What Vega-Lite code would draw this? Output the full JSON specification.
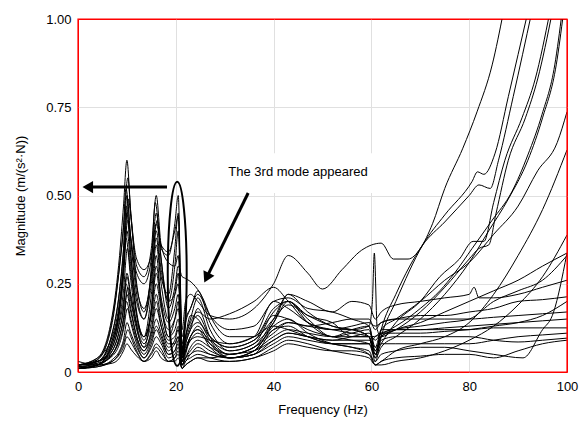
{
"$schema": "https://vega.github.io/schema/vega-lite/v6.json",
"width": 489, "height": 353,
"autosize": "none",
"padding": {"left": 78, "top": 19, "right": 13, "bottom": 55},
"view": {"stroke": "#ff0000", "strokeWidth": 1},
"config": {
 "font": "Liberation Sans",
 "view": {"stroke": "#ff0000", "strokeWidth": 1},
 "axis": {"labelFontSize": 13, "titleFontSize": 13, "labelColor": "#000", "titleColor": "#000", "titleFontWeight": "normal", "gridColor": "#e0e0e0", "ticks": false, "domain": false, "labelFlush": false}
},
"datasets": {
 "box": [{"f": 26, "f2": 65, "m": 0.507, "m2": 0.62}],
 "frame": [{"f": 0, "f2": 100, "m": 0, "m2": 1}],
 "label": [{"f": 45, "m": 0.567, "t": "The 3rd mode appeared"}],
 "arrows": [{"a": 1, "f": 18.2, "m": 0.524}, {"a": 1, "f": 2.2, "m": 0.524}, {"a": 2, "f": 34.8, "m": 0.507}, {"a": 2, "f": 26.4, "m": 0.27}],
 "head1": [{"f": 2.0, "m": 0.524}],
 "head2": [{"f": 26.3, "m": 0.267}],
 "ellipse": [{"f": 20.29, "m": 0.278}],
 "curves": [
{"c":1,"f":0,"m":0.02},{"c":1,"f":4,"m":0.04},{"c":1,"f":7,"m":0.16},{"c":1,"f":8.5,"m":0.33},{"c":1,"f":9.3,"m":0.47},{"c":1,"f":10,"m":0.6},{"c":1,"f":10.8,"m":0.45},{"c":1,"f":12,"m":0.32},{"c":1,"f":13.5,"m":0.29},{"c":1,"f":15,"m":0.33},{"c":1,"f":16,"m":0.42},{"c":1,"f":17,"m":0.36},{"c":1,"f":18.5,"m":0.34},{"c":1,"f":19.8,"m":0.4},{"c":1,"f":20.5,"m":0.44},{"c":1,"f":21.3,"m":0.12},{"c":1,"f":22,"m":0.2},{"c":1,"f":23,"m":0.22},{"c":1,"f":24.5,"m":0.2},{"c":1,"f":27,"m":0.16},{"c":1,"f":31,"m":0.15},{"c":1,"f":36,"m":0.18},{"c":1,"f":40,"m":0.25},{"c":1,"f":43,"m":0.33},{"c":1,"f":47,"m":0.28},{"c":1,"f":50,"m":0.235},{"c":1,"f":54,"m":0.29},{"c":1,"f":58,"m":0.345},{"c":1,"f":62,"m":0.365},{"c":1,"f":64.5,"m":0.32},{"c":1,"f":67.5,"m":0.32},{"c":1,"f":70,"m":0.35},{"c":1,"f":72.5,"m":0.42},{"c":1,"f":75,"m":0.52},{"c":1,"f":78.7,"m":0.634},{"c":1,"f":81.6,"m":0.737},{"c":1,"f":84.7,"m":0.87},{"c":1,"f":87,"m":1.02},
{"c":2,"f":0,"m":0.01},{"c":2,"f":4,"m":0.035},{"c":2,"f":7,"m":0.15},{"c":2,"f":8.5,"m":0.3},{"c":2,"f":9.3,"m":0.41},{"c":2,"f":10.2,"m":0.55},{"c":2,"f":10.8,"m":0.45},{"c":2,"f":12,"m":0.3},{"c":2,"f":13.5,"m":0.27},{"c":2,"f":15,"m":0.35},{"c":2,"f":16,"m":0.5},{"c":2,"f":17,"m":0.36},{"c":2,"f":18.5,"m":0.31},{"c":2,"f":19.8,"m":0.3},{"c":2,"f":20.5,"m":0.33},{"c":2,"f":21.3,"m":0.1},{"c":2,"f":22,"m":0.15},{"c":2,"f":23,"m":0.18},{"c":2,"f":24.5,"m":0.23},{"c":2,"f":27,"m":0.14},{"c":2,"f":31,"m":0.08},{"c":2,"f":36,"m":0.1},{"c":2,"f":40,"m":0.2},{"c":2,"f":43,"m":0.18},{"c":2,"f":47,"m":0.14},{"c":2,"f":52,"m":0.12},{"c":2,"f":56,"m":0.12},{"c":2,"f":59.5,"m":0.1},{"c":2,"f":60.8,"m":0.03},{"c":2,"f":62,"m":0.1},{"c":2,"f":65,"m":0.2},{"c":2,"f":70.5,"m":0.36},{"c":2,"f":75,"m":0.445},{"c":2,"f":80.6,"m":0.54},{"c":2,"f":81.7,"m":0.567},{"c":2,"f":83,"m":0.56},{"c":2,"f":85.3,"m":0.62},{"c":2,"f":88,"m":0.78},{"c":2,"f":92,"m":1.02},
{"c":3,"f":0,"m":0.02},{"c":3,"f":4,"m":0.035},{"c":3,"f":7,"m":0.14},{"c":3,"f":8.5,"m":0.3},{"c":3,"f":9.3,"m":0.41},{"c":3,"f":9.8,"m":0.52},{"c":3,"f":10.8,"m":0.38},{"c":3,"f":12,"m":0.28},{"c":3,"f":13.5,"m":0.25},{"c":3,"f":15,"m":0.32},{"c":3,"f":16,"m":0.45},{"c":3,"f":17,"m":0.35},{"c":3,"f":18.5,"m":0.33},{"c":3,"f":19.8,"m":0.42},{"c":3,"f":20.5,"m":0.5},{"c":3,"f":21.3,"m":0.05},{"c":3,"f":22,"m":0.1},{"c":3,"f":23,"m":0.15},{"c":3,"f":24.5,"m":0.21},{"c":3,"f":27,"m":0.12},{"c":3,"f":31,"m":0.06},{"c":3,"f":36,"m":0.08},{"c":3,"f":40,"m":0.17},{"c":3,"f":43,"m":0.2},{"c":3,"f":47,"m":0.15},{"c":3,"f":52,"m":0.1},{"c":3,"f":56,"m":0.12},{"c":3,"f":59.5,"m":0.13},{"c":3,"f":60.8,"m":0.05},{"c":3,"f":62,"m":0.12},{"c":3,"f":65,"m":0.22},{"c":3,"f":70.5,"m":0.36},{"c":3,"f":75,"m":0.425},{"c":3,"f":80,"m":0.5},{"c":3,"f":82,"m":0.53},{"c":3,"f":84.3,"m":0.52},{"c":3,"f":86,"m":0.6},{"c":3,"f":89,"m":0.78},{"c":3,"f":92.8,"m":1.02},
{"c":4,"f":0,"m":0.015},{"c":4,"f":4,"m":0.025},{"c":4,"f":7,"m":0.11},{"c":4,"f":8.5,"m":0.23},{"c":4,"f":9.3,"m":0.35},{"c":4,"f":10,"m":0.5},{"c":4,"f":10.8,"m":0.37},{"c":4,"f":12,"m":0.22},{"c":4,"f":13.5,"m":0.15},{"c":4,"f":15,"m":0.25},{"c":4,"f":16,"m":0.38},{"c":4,"f":17,"m":0.27},{"c":4,"f":18.5,"m":0.22},{"c":4,"f":19.8,"m":0.35},{"c":4,"f":20.5,"m":0.45},{"c":4,"f":21.3,"m":0.03},{"c":4,"f":22,"m":0.08},{"c":4,"f":23,"m":0.12},{"c":4,"f":24.5,"m":0.18},{"c":4,"f":27,"m":0.1},{"c":4,"f":31,"m":0.05},{"c":4,"f":36,"m":0.07},{"c":4,"f":40,"m":0.15},{"c":4,"f":43,"m":0.22},{"c":4,"f":47,"m":0.17},{"c":4,"f":52,"m":0.13},{"c":4,"f":56,"m":0.12},{"c":4,"f":59.5,"m":0.1},{"c":4,"f":60.8,"m":0.05},{"c":4,"f":62,"m":0.08},{"c":4,"f":65,"m":0.14},{"c":4,"f":70,"m":0.2},{"c":4,"f":74,"m":0.27},{"c":4,"f":78,"m":0.32},{"c":4,"f":80.8,"m":0.37},{"c":4,"f":83,"m":0.37},{"c":4,"f":85,"m":0.48},{"c":4,"f":87.3,"m":0.6},{"c":4,"f":90.8,"m":0.72},{"c":4,"f":93.5,"m":0.83},{"c":4,"f":96.5,"m":1.02},
{"c":5,"f":0,"m":0.01},{"c":5,"f":4,"m":0.02},{"c":5,"f":7,"m":0.09},{"c":5,"f":8.5,"m":0.19},{"c":5,"f":9.3,"m":0.3},{"c":5,"f":10.3,"m":0.49},{"c":5,"f":10.8,"m":0.44},{"c":5,"f":12,"m":0.25},{"c":5,"f":13.5,"m":0.17},{"c":5,"f":15,"m":0.28},{"c":5,"f":16.2,"m":0.43},{"c":5,"f":17,"m":0.32},{"c":5,"f":18.5,"m":0.2},{"c":5,"f":19.8,"m":0.3},{"c":5,"f":20.5,"m":0.4},{"c":5,"f":21.3,"m":0.04},{"c":5,"f":22,"m":0.1},{"c":5,"f":23,"m":0.16},{"c":5,"f":24.5,"m":0.15},{"c":5,"f":27,"m":0.09},{"c":5,"f":31,"m":0.04},{"c":5,"f":36,"m":0.06},{"c":5,"f":40,"m":0.14},{"c":5,"f":43,"m":0.2},{"c":5,"f":47,"m":0.14},{"c":5,"f":52,"m":0.1},{"c":5,"f":56,"m":0.11},{"c":5,"f":59.5,"m":0.12},{"c":5,"f":60.8,"m":0.06},{"c":5,"f":62,"m":0.1},{"c":5,"f":65,"m":0.12},{"c":5,"f":70,"m":0.17},{"c":5,"f":75,"m":0.24},{"c":5,"f":80,"m":0.32},{"c":5,"f":82,"m":0.35},{"c":5,"f":84,"m":0.36},{"c":5,"f":85.5,"m":0.45},{"c":5,"f":88,"m":0.6},{"c":5,"f":91.5,"m":0.72},{"c":5,"f":94,"m":0.83},{"c":5,"f":97,"m":1.02},
{"c":6,"f":0,"m":0.02},{"c":6,"f":4,"m":0.03},{"c":6,"f":7,"m":0.11},{"c":6,"f":8.5,"m":0.23},{"c":6,"f":9.3,"m":0.34},{"c":6,"f":9.9,"m":0.47},{"c":6,"f":10.8,"m":0.33},{"c":6,"f":12,"m":0.2},{"c":6,"f":13.5,"m":0.15},{"c":6,"f":15,"m":0.3},{"c":6,"f":15.8,"m":0.48},{"c":6,"f":17,"m":0.32},{"c":6,"f":18.5,"m":0.18},{"c":6,"f":19.8,"m":0.24},{"c":6,"f":20.5,"m":0.3},{"c":6,"f":21.3,"m":0.27},{"c":6,"f":22,"m":0.265},{"c":6,"f":23.5,"m":0.25},{"c":6,"f":25.5,"m":0.21},{"c":6,"f":27,"m":0.16},{"c":6,"f":31,"m":0.1},{"c":6,"f":36,"m":0.1},{"c":6,"f":40,"m":0.18},{"c":6,"f":43,"m":0.2},{"c":6,"f":47,"m":0.16},{"c":6,"f":52,"m":0.14},{"c":6,"f":56,"m":0.1},{"c":6,"f":60,"m":0.1},{"c":6,"f":65,"m":0.13},{"c":6,"f":70,"m":0.18},{"c":6,"f":74,"m":0.23},{"c":6,"f":77,"m":0.28},{"c":6,"f":80.6,"m":0.35},{"c":6,"f":84.7,"m":0.43},{"c":6,"f":88.7,"m":0.51},{"c":6,"f":92,"m":0.615},{"c":6,"f":94.9,"m":0.73},{"c":6,"f":97.5,"m":0.87},{"c":6,"f":99,"m":1.02},
{"c":7,"f":0,"m":0.01},{"c":7,"f":4,"m":0.02},{"c":7,"f":7,"m":0.08},{"c":7,"f":8.5,"m":0.18},{"c":7,"f":9.3,"m":0.3},{"c":7,"f":10,"m":0.45},{"c":7,"f":10.8,"m":0.33},{"c":7,"f":12,"m":0.17},{"c":7,"f":13.5,"m":0.1},{"c":7,"f":15,"m":0.22},{"c":7,"f":16,"m":0.36},{"c":7,"f":17,"m":0.25},{"c":7,"f":18.5,"m":0.15},{"c":7,"f":19.8,"m":0.22},{"c":7,"f":20.5,"m":0.28},{"c":7,"f":21.3,"m":0.05},{"c":7,"f":22,"m":0.09},{"c":7,"f":23,"m":0.13},{"c":7,"f":24.5,"m":0.16},{"c":7,"f":27,"m":0.1},{"c":7,"f":31,"m":0.07},{"c":7,"f":36,"m":0.09},{"c":7,"f":40,"m":0.16},{"c":7,"f":43,"m":0.15},{"c":7,"f":47,"m":0.12},{"c":7,"f":52,"m":0.1},{"c":7,"f":56,"m":0.09},{"c":7,"f":59.5,"m":0.08},{"c":7,"f":60.8,"m":0.04},{"c":7,"f":62,"m":0.07},{"c":7,"f":65,"m":0.1},{"c":7,"f":70,"m":0.15},{"c":7,"f":75,"m":0.22},{"c":7,"f":80,"m":0.31},{"c":7,"f":84,"m":0.4},{"c":7,"f":88,"m":0.49},{"c":7,"f":92,"m":0.6},{"c":7,"f":95,"m":0.72},{"c":7,"f":97.8,"m":0.87},{"c":7,"f":99.3,"m":1.02},
{"c":8,"f":0,"m":0.02},{"c":8,"f":4,"m":0.04},{"c":8,"f":7,"m":0.1},{"c":8,"f":8.5,"m":0.2},{"c":8,"f":9.3,"m":0.3},{"c":8,"f":10.2,"m":0.43},{"c":8,"f":10.8,"m":0.38},{"c":8,"f":12,"m":0.24},{"c":8,"f":13.5,"m":0.18},{"c":8,"f":15,"m":0.27},{"c":8,"f":16,"m":0.4},{"c":8,"f":17,"m":0.29},{"c":8,"f":18.5,"m":0.2},{"c":8,"f":19.8,"m":0.22},{"c":8,"f":20.5,"m":0.25},{"c":8,"f":21.3,"m":0.08},{"c":8,"f":22,"m":0.14},{"c":8,"f":23,"m":0.18},{"c":8,"f":24.5,"m":0.22},{"c":8,"f":27,"m":0.16},{"c":8,"f":31,"m":0.12},{"c":8,"f":36,"m":0.13},{"c":8,"f":40,"m":0.2},{"c":8,"f":43,"m":0.21},{"c":8,"f":47,"m":0.18},{"c":8,"f":52,"m":0.17},{"c":8,"f":56,"m":0.15},{"c":8,"f":59.5,"m":0.13},{"c":8,"f":60.8,"m":0.07},{"c":8,"f":62,"m":0.12},{"c":8,"f":65,"m":0.15},{"c":8,"f":70,"m":0.2},{"c":8,"f":75,"m":0.26},{"c":8,"f":80,"m":0.31},{"c":8,"f":85,"m":0.39},{"c":8,"f":90,"m":0.47},{"c":8,"f":94,"m":0.57},{"c":8,"f":98,"m":0.65},{"c":8,"f":100,"m":0.737},
{"c":9,"f":0,"m":0.01},{"c":9,"f":4,"m":0.02},{"c":9,"f":7,"m":0.08},{"c":9,"f":8.5,"m":0.17},{"c":9,"f":9.3,"m":0.27},{"c":9,"f":10,"m":0.4},{"c":9,"f":10.8,"m":0.3},{"c":9,"f":12,"m":0.16},{"c":9,"f":13.5,"m":0.09},{"c":9,"f":15,"m":0.18},{"c":9,"f":16,"m":0.3},{"c":9,"f":17,"m":0.21},{"c":9,"f":18.5,"m":0.14},{"c":9,"f":19.8,"m":0.18},{"c":9,"f":20.5,"m":0.22},{"c":9,"f":21.3,"m":0.04},{"c":9,"f":22,"m":0.07},{"c":9,"f":23,"m":0.1},{"c":9,"f":24.5,"m":0.13},{"c":9,"f":27,"m":0.08},{"c":9,"f":31,"m":0.04},{"c":9,"f":36,"m":0.05},{"c":9,"f":40,"m":0.12},{"c":9,"f":43,"m":0.13},{"c":9,"f":47,"m":0.1},{"c":9,"f":52,"m":0.08},{"c":9,"f":56,"m":0.07},{"c":9,"f":59.5,"m":0.06},{"c":9,"f":60.8,"m":0.02},{"c":9,"f":62,"m":0.03},{"c":9,"f":65,"m":0.06},{"c":9,"f":70,"m":0.08},{"c":9,"f":75,"m":0.1},{"c":9,"f":80,"m":0.14},{"c":9,"f":85,"m":0.22},{"c":9,"f":90,"m":0.33},{"c":9,"f":95,"m":0.46},{"c":9,"f":100,"m":0.629},
{"c":10,"f":0,"m":0.02},{"c":10,"f":4,"m":0.03},{"c":10,"f":7,"m":0.09},{"c":10,"f":8.5,"m":0.18},{"c":10,"f":9.3,"m":0.28},{"c":10,"f":9.8,"m":0.38},{"c":10,"f":10.8,"m":0.26},{"c":10,"f":12,"m":0.13},{"c":10,"f":13.5,"m":0.07},{"c":10,"f":15,"m":0.18},{"c":10,"f":16,"m":0.33},{"c":10,"f":17,"m":0.2},{"c":10,"f":18.5,"m":0.1},{"c":10,"f":19.8,"m":0.15},{"c":10,"f":20.5,"m":0.2},{"c":10,"f":21.3,"m":0.03},{"c":10,"f":22,"m":0.06},{"c":10,"f":23,"m":0.1},{"c":10,"f":24.5,"m":0.12},{"c":10,"f":27,"m":0.07},{"c":10,"f":31,"m":0.04},{"c":10,"f":36,"m":0.06},{"c":10,"f":40,"m":0.13},{"c":10,"f":43,"m":0.15},{"c":10,"f":47,"m":0.11},{"c":10,"f":52,"m":0.08},{"c":10,"f":56,"m":0.07},{"c":10,"f":59.5,"m":0.05},{"c":10,"f":60.8,"m":0.02},{"c":10,"f":62,"m":0.02},{"c":10,"f":65,"m":0.03},{"c":10,"f":70,"m":0.04},{"c":10,"f":75,"m":0.06},{"c":10,"f":80,"m":0.09},{"c":10,"f":85,"m":0.13},{"c":10,"f":90,"m":0.19},{"c":10,"f":95,"m":0.27},{"c":10,"f":100,"m":0.388},
{"c":11,"f":0,"m":0.01},{"c":11,"f":4,"m":0.02},{"c":11,"f":7,"m":0.07},{"c":11,"f":8.5,"m":0.15},{"c":11,"f":9.3,"m":0.23},{"c":11,"f":10.1,"m":0.35},{"c":11,"f":10.8,"m":0.28},{"c":11,"f":12,"m":0.16},{"c":11,"f":13.5,"m":0.1},{"c":11,"f":15,"m":0.17},{"c":11,"f":16,"m":0.28},{"c":11,"f":17,"m":0.19},{"c":11,"f":18.5,"m":0.12},{"c":11,"f":19.8,"m":0.15},{"c":11,"f":20.5,"m":0.18},{"c":11,"f":21.3,"m":0.05},{"c":11,"f":22,"m":0.1},{"c":11,"f":23,"m":0.14},{"c":11,"f":24.5,"m":0.17},{"c":11,"f":27,"m":0.15},{"c":11,"f":31,"m":0.165},{"c":11,"f":36,"m":0.2},{"c":11,"f":40,"m":0.24},{"c":11,"f":43,"m":0.2},{"c":11,"f":47,"m":0.14},{"c":11,"f":52,"m":0.12},{"c":11,"f":56,"m":0.11},{"c":11,"f":59.5,"m":0.1},{"c":11,"f":60.8,"m":0.06},{"c":11,"f":62,"m":0.1},{"c":11,"f":65,"m":0.12},{"c":11,"f":70,"m":0.14},{"c":11,"f":75,"m":0.17},{"c":11,"f":80,"m":0.2},{"c":11,"f":85,"m":0.23},{"c":11,"f":90,"m":0.26},{"c":11,"f":95,"m":0.3},{"c":11,"f":100,"m":0.337},
{"c":12,"f":0,"m":0.02},{"c":12,"f":4,"m":0.03},{"c":12,"f":7,"m":0.07},{"c":12,"f":8.5,"m":0.14},{"c":12,"f":9.3,"m":0.2},{"c":12,"f":10,"m":0.28},{"c":12,"f":10.8,"m":0.22},{"c":12,"f":12,"m":0.14},{"c":12,"f":13.5,"m":0.1},{"c":12,"f":15,"m":0.16},{"c":12,"f":16,"m":0.25},{"c":12,"f":17,"m":0.18},{"c":12,"f":18.5,"m":0.1},{"c":12,"f":19.8,"m":0.12},{"c":12,"f":20.5,"m":0.15},{"c":12,"f":21.3,"m":0.04},{"c":12,"f":22,"m":0.08},{"c":12,"f":23,"m":0.12},{"c":12,"f":24.5,"m":0.14},{"c":12,"f":27,"m":0.1},{"c":12,"f":31,"m":0.07},{"c":12,"f":36,"m":0.09},{"c":12,"f":40,"m":0.15},{"c":12,"f":43,"m":0.19},{"c":12,"f":47,"m":0.16},{"c":12,"f":52,"m":0.13},{"c":12,"f":56,"m":0.12},{"c":12,"f":59.5,"m":0.13},{"c":12,"f":60.2,"m":0.2},{"c":12,"f":60.6,"m":0.337},{"c":12,"f":61.2,"m":0.12},{"c":12,"f":62,"m":0.1},{"c":12,"f":65,"m":0.12},{"c":12,"f":70,"m":0.13},{"c":12,"f":75,"m":0.14},{"c":12,"f":80,"m":0.15},{"c":12,"f":85,"m":0.2},{"c":12,"f":90,"m":0.23},{"c":12,"f":95,"m":0.26},{"c":12,"f":100,"m":0.33},
{"c":13,"f":0,"m":0.015},{"c":13,"f":4,"m":0.02},{"c":13,"f":7,"m":0.06},{"c":13,"f":8.5,"m":0.12},{"c":13,"f":9.3,"m":0.18},{"c":13,"f":10,"m":0.27},{"c":13,"f":10.8,"m":0.21},{"c":13,"f":12,"m":0.13},{"c":13,"f":13.5,"m":0.08},{"c":13,"f":15,"m":0.14},{"c":13,"f":16,"m":0.22},{"c":13,"f":17,"m":0.15},{"c":13,"f":18.5,"m":0.09},{"c":13,"f":19.8,"m":0.1},{"c":13,"f":20.5,"m":0.13},{"c":13,"f":21.3,"m":0.02},{"c":13,"f":22,"m":0.05},{"c":13,"f":23,"m":0.1},{"c":13,"f":24.5,"m":0.12},{"c":13,"f":27,"m":0.09},{"c":13,"f":31,"m":0.06},{"c":13,"f":36,"m":0.08},{"c":13,"f":40,"m":0.14},{"c":13,"f":43,"m":0.22},{"c":13,"f":47,"m":0.2},{"c":13,"f":52,"m":0.17},{"c":13,"f":56,"m":0.2},{"c":13,"f":59.5,"m":0.19},{"c":13,"f":60.8,"m":0.15},{"c":13,"f":62,"m":0.17},{"c":13,"f":65,"m":0.19},{"c":13,"f":70,"m":0.2},{"c":13,"f":75,"m":0.21},{"c":13,"f":80,"m":0.22},{"c":13,"f":81,"m":0.24},{"c":13,"f":82,"m":0.21},{"c":13,"f":85,"m":0.21},{"c":13,"f":90,"m":0.22},{"c":13,"f":95,"m":0.24},{"c":13,"f":100,"m":0.26},
{"c":14,"f":0,"m":0.02},{"c":14,"f":4,"m":0.03},{"c":14,"f":7,"m":0.06},{"c":14,"f":8.5,"m":0.12},{"c":14,"f":9.3,"m":0.18},{"c":14,"f":9.8,"m":0.25},{"c":14,"f":10.8,"m":0.18},{"c":14,"f":12,"m":0.1},{"c":14,"f":13.5,"m":0.06},{"c":14,"f":15,"m":0.12},{"c":14,"f":16,"m":0.2},{"c":14,"f":17,"m":0.13},{"c":14,"f":18.5,"m":0.07},{"c":14,"f":19.8,"m":0.09},{"c":14,"f":20.5,"m":0.12},{"c":14,"f":21.3,"m":0.03},{"c":14,"f":22,"m":0.06},{"c":14,"f":23,"m":0.09},{"c":14,"f":24.5,"m":0.11},{"c":14,"f":27,"m":0.08},{"c":14,"f":31,"m":0.05},{"c":14,"f":36,"m":0.07},{"c":14,"f":40,"m":0.12},{"c":14,"f":43,"m":0.14},{"c":14,"f":47,"m":0.13},{"c":14,"f":52,"m":0.12},{"c":14,"f":56,"m":0.13},{"c":14,"f":59.5,"m":0.14},{"c":14,"f":60.8,"m":0.13},{"c":14,"f":62,"m":0.14},{"c":14,"f":65,"m":0.15},{"c":14,"f":70,"m":0.16},{"c":14,"f":75,"m":0.16},{"c":14,"f":80,"m":0.17},{"c":14,"f":85,"m":0.18},{"c":14,"f":90,"m":0.2},{"c":14,"f":95,"m":0.205},{"c":14,"f":100,"m":0.213},
{"c":15,"f":0,"m":0.01},{"c":15,"f":4,"m":0.02},{"c":15,"f":7,"m":0.05},{"c":15,"f":8.5,"m":0.1},{"c":15,"f":9.3,"m":0.15},{"c":15,"f":10.2,"m":0.24},{"c":15,"f":10.8,"m":0.2},{"c":15,"f":12,"m":0.12},{"c":15,"f":13.5,"m":0.07},{"c":15,"f":15,"m":0.11},{"c":15,"f":16,"m":0.18},{"c":15,"f":17,"m":0.13},{"c":15,"f":18.5,"m":0.08},{"c":15,"f":19.8,"m":0.08},{"c":15,"f":20.5,"m":0.1},{"c":15,"f":21.3,"m":0.03},{"c":15,"f":22,"m":0.06},{"c":15,"f":23,"m":0.09},{"c":15,"f":24.5,"m":0.1},{"c":15,"f":27,"m":0.09},{"c":15,"f":31,"m":0.08},{"c":15,"f":36,"m":0.1},{"c":15,"f":40,"m":0.13},{"c":15,"f":43,"m":0.12},{"c":15,"f":47,"m":0.1},{"c":15,"f":52,"m":0.08},{"c":15,"f":56,"m":0.08},{"c":15,"f":59.5,"m":0.08},{"c":15,"f":60.8,"m":0.1},{"c":15,"f":62,"m":0.11},{"c":15,"f":65,"m":0.11},{"c":15,"f":70,"m":0.11},{"c":15,"f":75,"m":0.115},{"c":15,"f":80,"m":0.12},{"c":15,"f":85,"m":0.13},{"c":15,"f":90,"m":0.14},{"c":15,"f":95,"m":0.16},{"c":15,"f":100,"m":0.2},
{"c":16,"f":0,"m":0.02},{"c":16,"f":4,"m":0.03},{"c":16,"f":7,"m":0.05},{"c":16,"f":8.5,"m":0.1},{"c":16,"f":9.3,"m":0.15},{"c":16,"f":10,"m":0.22},{"c":16,"f":10.8,"m":0.17},{"c":16,"f":12,"m":0.1},{"c":16,"f":13.5,"m":0.06},{"c":16,"f":15,"m":0.1},{"c":16,"f":16,"m":0.15},{"c":16,"f":17,"m":0.11},{"c":16,"f":18.5,"m":0.06},{"c":16,"f":19.8,"m":0.08},{"c":16,"f":20.5,"m":0.1},{"c":16,"f":21.3,"m":0.02},{"c":16,"f":22,"m":0.04},{"c":16,"f":23,"m":0.07},{"c":16,"f":24.5,"m":0.09},{"c":16,"f":27,"m":0.07},{"c":16,"f":31,"m":0.05},{"c":16,"f":36,"m":0.07},{"c":16,"f":40,"m":0.11},{"c":16,"f":43,"m":0.14},{"c":16,"f":47,"m":0.13},{"c":16,"f":52,"m":0.14},{"c":16,"f":56,"m":0.15},{"c":16,"f":59.5,"m":0.15},{"c":16,"f":60.8,"m":0.12},{"c":16,"f":62,"m":0.14},{"c":16,"f":65,"m":0.15},{"c":16,"f":70,"m":0.15},{"c":16,"f":75,"m":0.15},{"c":16,"f":80,"m":0.15},{"c":16,"f":85,"m":0.155},{"c":16,"f":90,"m":0.16},{"c":16,"f":95,"m":0.165},{"c":16,"f":100,"m":0.17},
{"c":17,"f":0,"m":0.01},{"c":17,"f":4,"m":0.02},{"c":17,"f":7,"m":0.05},{"c":17,"f":8.5,"m":0.09},{"c":17,"f":9.3,"m":0.13},{"c":17,"f":9.9,"m":0.2},{"c":17,"f":10.8,"m":0.15},{"c":17,"f":12,"m":0.09},{"c":17,"f":13.5,"m":0.05},{"c":17,"f":15,"m":0.09},{"c":17,"f":16,"m":0.13},{"c":17,"f":17,"m":0.1},{"c":17,"f":18.5,"m":0.05},{"c":17,"f":19.8,"m":0.06},{"c":17,"f":20.5,"m":0.09},{"c":17,"f":21.3,"m":0.02},{"c":17,"f":22,"m":0.04},{"c":17,"f":23,"m":0.06},{"c":17,"f":24.5,"m":0.08},{"c":17,"f":27,"m":0.06},{"c":17,"f":31,"m":0.04},{"c":17,"f":36,"m":0.06},{"c":17,"f":40,"m":0.1},{"c":17,"f":43,"m":0.12},{"c":17,"f":47,"m":0.11},{"c":17,"f":52,"m":0.1},{"c":17,"f":56,"m":0.1},{"c":17,"f":59.5,"m":0.1},{"c":17,"f":60.8,"m":0.04},{"c":17,"f":62,"m":0.12},{"c":17,"f":65,"m":0.12},{"c":17,"f":70,"m":0.12},{"c":17,"f":75,"m":0.12},{"c":17,"f":80,"m":0.12},{"c":17,"f":85,"m":0.125},{"c":17,"f":90,"m":0.125},{"c":17,"f":95,"m":0.125},{"c":17,"f":100,"m":0.125},
{"c":18,"f":0,"m":0.02},{"c":18,"f":4,"m":0.025},{"c":18,"f":7,"m":0.045},{"c":18,"f":8.5,"m":0.08},{"c":18,"f":9.3,"m":0.12},{"c":18,"f":10.1,"m":0.18},{"c":18,"f":10.8,"m":0.14},{"c":18,"f":12,"m":0.08},{"c":18,"f":13.5,"m":0.04},{"c":18,"f":15,"m":0.08},{"c":18,"f":16,"m":0.12},{"c":18,"f":17,"m":0.09},{"c":18,"f":18.5,"m":0.05},{"c":18,"f":19.8,"m":0.06},{"c":18,"f":20.5,"m":0.08},{"c":18,"f":21.3,"m":0.02},{"c":18,"f":22,"m":0.04},{"c":18,"f":23,"m":0.05},{"c":18,"f":24.5,"m":0.07},{"c":18,"f":27,"m":0.05},{"c":18,"f":31,"m":0.04},{"c":18,"f":36,"m":0.05},{"c":18,"f":40,"m":0.09},{"c":18,"f":43,"m":0.11},{"c":18,"f":47,"m":0.1},{"c":18,"f":52,"m":0.09},{"c":18,"f":56,"m":0.09},{"c":18,"f":59.5,"m":0.09},{"c":18,"f":60.8,"m":0.07},{"c":18,"f":62,"m":0.08},{"c":18,"f":65,"m":0.08},{"c":18,"f":70,"m":0.08},{"c":18,"f":75,"m":0.08},{"c":18,"f":80,"m":0.08},{"c":18,"f":85,"m":0.09},{"c":18,"f":90,"m":0.1},{"c":18,"f":95,"m":0.105},{"c":18,"f":100,"m":0.11},
{"c":19,"f":0,"m":0.01},{"c":19,"f":4,"m":0.015},{"c":19,"f":7,"m":0.035},{"c":19,"f":8.5,"m":0.06},{"c":19,"f":9.3,"m":0.09},{"c":19,"f":10,"m":0.14},{"c":19,"f":10.8,"m":0.11},{"c":19,"f":12,"m":0.07},{"c":19,"f":13.5,"m":0.04},{"c":19,"f":15,"m":0.07},{"c":19,"f":16,"m":0.1},{"c":19,"f":17,"m":0.08},{"c":19,"f":18.5,"m":0.04},{"c":19,"f":19.8,"m":0.05},{"c":19,"f":20.5,"m":0.07},{"c":19,"f":21.3,"m":0.02},{"c":19,"f":22,"m":0.03},{"c":19,"f":23,"m":0.05},{"c":19,"f":24.5,"m":0.06},{"c":19,"f":27,"m":0.05},{"c":19,"f":31,"m":0.04},{"c":19,"f":36,"m":0.05},{"c":19,"f":40,"m":0.08},{"c":19,"f":43,"m":0.1},{"c":19,"f":47,"m":0.09},{"c":19,"f":52,"m":0.08},{"c":19,"f":56,"m":0.08},{"c":19,"f":59.5,"m":0.08},{"c":19,"f":60.8,"m":0.05},{"c":19,"f":62,"m":0.09},{"c":19,"f":65,"m":0.1},{"c":19,"f":70,"m":0.1},{"c":19,"f":75,"m":0.1},{"c":19,"f":80,"m":0.1},{"c":19,"f":85,"m":0.09},{"c":19,"f":90,"m":0.085},{"c":19,"f":95,"m":0.09},{"c":19,"f":100,"m":0.096},
{"c":20,"f":0,"m":0.02},{"c":20,"f":4,"m":0.02},{"c":20,"f":7,"m":0.03},{"c":20,"f":8.5,"m":0.055},{"c":20,"f":9.3,"m":0.08},{"c":20,"f":10.2,"m":0.12},{"c":20,"f":10.8,"m":0.1},{"c":20,"f":12,"m":0.06},{"c":20,"f":13.5,"m":0.03},{"c":20,"f":15,"m":0.055},{"c":20,"f":16,"m":0.08},{"c":20,"f":17,"m":0.065},{"c":20,"f":18.5,"m":0.03},{"c":20,"f":19.8,"m":0.04},{"c":20,"f":20.5,"m":0.06},{"c":20,"f":21.3,"m":0.01},{"c":20,"f":22,"m":0.03},{"c":20,"f":23,"m":0.04},{"c":20,"f":24.5,"m":0.05},{"c":20,"f":27,"m":0.04},{"c":20,"f":31,"m":0.03},{"c":20,"f":36,"m":0.04},{"c":20,"f":40,"m":0.07},{"c":20,"f":43,"m":0.09},{"c":20,"f":47,"m":0.08},{"c":20,"f":52,"m":0.06},{"c":20,"f":56,"m":0.05},{"c":20,"f":59.5,"m":0.04},{"c":20,"f":60.8,"m":0.02},{"c":20,"f":62,"m":0.03},{"c":20,"f":65,"m":0.04},{"c":20,"f":70,"m":0.045},{"c":20,"f":75,"m":0.05},{"c":20,"f":80,"m":0.05},{"c":20,"f":85,"m":0.04},{"c":20,"f":90,"m":0.06},{"c":20,"f":95,"m":0.08},{"c":20,"f":100,"m":0.09},
{"c":21,"f":0,"m":0.01},{"c":21,"f":4,"m":0.015},{"c":21,"f":7,"m":0.03},{"c":21,"f":8.5,"m":0.05},{"c":21,"f":9.3,"m":0.07},{"c":21,"f":10,"m":0.1},{"c":21,"f":10.8,"m":0.085},{"c":21,"f":12,"m":0.055},{"c":21,"f":13.5,"m":0.03},{"c":21,"f":15,"m":0.05},{"c":21,"f":16,"m":0.07},{"c":21,"f":17,"m":0.055},{"c":21,"f":18.5,"m":0.03},{"c":21,"f":19.8,"m":0.04},{"c":21,"f":20.5,"m":0.05},{"c":21,"f":21.3,"m":0.01},{"c":21,"f":22,"m":0.02},{"c":21,"f":23,"m":0.03},{"c":21,"f":24.5,"m":0.04},{"c":21,"f":27,"m":0.03},{"c":21,"f":31,"m":0.03},{"c":21,"f":36,"m":0.04},{"c":21,"f":40,"m":0.06},{"c":21,"f":43,"m":0.08},{"c":21,"f":47,"m":0.07},{"c":21,"f":52,"m":0.06},{"c":21,"f":56,"m":0.06},{"c":21,"f":59.5,"m":0.05},{"c":21,"f":60.8,"m":0.03},{"c":21,"f":62,"m":0.05},{"c":21,"f":65,"m":0.06},{"c":21,"f":70,"m":0.07},{"c":21,"f":75,"m":0.07},{"c":21,"f":80,"m":0.06},{"c":21,"f":85,"m":0.05},{"c":21,"f":91,"m":0.04},{"c":21,"f":95,"m":0.12},{"c":21,"f":97,"m":0.16},{"c":21,"f":100,"m":0.337},
{"c":22,"f":0,"m":0.03},{"c":22,"f":4,"m":0.02},{"c":22,"f":7,"m":0.025},{"c":22,"f":8.5,"m":0.04},{"c":22,"f":9.3,"m":0.06},{"c":22,"f":10,"m":0.08},{"c":22,"f":10.8,"m":0.065},{"c":22,"f":12,"m":0.045},{"c":22,"f":13.5,"m":0.03},{"c":22,"f":15,"m":0.04},{"c":22,"f":16,"m":0.06},{"c":22,"f":17,"m":0.04},{"c":22,"f":18.5,"m":0.03},{"c":22,"f":19.8,"m":0.03},{"c":22,"f":20.5,"m":0.04},{"c":22,"f":21.3,"m":0.01},{"c":22,"f":22,"m":0.02},{"c":22,"f":23,"m":0.03},{"c":22,"f":24.5,"m":0.04},{"c":22,"f":27,"m":0.04},{"c":22,"f":31,"m":0.05},{"c":22,"f":36,"m":0.06},{"c":22,"f":40,"m":0.09},{"c":22,"f":43,"m":0.11},{"c":22,"f":47,"m":0.1},{"c":22,"f":52,"m":0.09},{"c":22,"f":56,"m":0.1},{"c":22,"f":59.5,"m":0.11},{"c":22,"f":60.8,"m":0.09},{"c":22,"f":62,"m":0.11},{"c":22,"f":65,"m":0.12},{"c":22,"f":70,"m":0.12},{"c":22,"f":75,"m":0.125},{"c":22,"f":80,"m":0.13},{"c":22,"f":85,"m":0.135},{"c":22,"f":90,"m":0.14},{"c":22,"f":95,"m":0.145},{"c":22,"f":100,"m":0.15}
 ]
},
"encoding": {
 "x": {"field": "f", "type": "quantitative", "scale": {"domain": [0, 100], "nice": false, "zero": false},
  "axis": {"values": [0, 20, 40, 60, 80, 100], "labelPadding": 8, "title": "Frequency (Hz)", "titlePadding": 10,
   "gridOpacity": {"condition": {"test": "datum.value === 0 || datum.value === 100", "value": 0}, "value": 1}}},
 "y": {"field": "m", "type": "quantitative", "scale": {"domain": [0, 1], "nice": false},
  "axis": {"values": [0, 0.25, 0.5, 0.75, 1], "labelExpr": "datum.value == 0 ? '0' : format(datum.value, '.2f')", "labelPadding": 7, "title": "Magnitude (m/(s²·N))", "titlePadding": 18,
   "gridOpacity": {"condition": {"test": "datum.value === 0 || datum.value === 1", "value": 0}, "value": 1}}}
},
"layer": [
 {"data": {"name": "box"}, "mark": {"type": "rect", "fill": "white"}, "encoding": {"x2": {"field": "f2"}, "y2": {"field": "m2"}}},
 {"data": {"name": "curves"}, "mark": {"type": "line", "color": "#000", "strokeWidth": 1, "interpolate": "monotone", "clip": true}, "encoding": {"detail": {"field": "c", "type": "nominal"}}},
 {"data": {"name": "ellipse"}, "mark": {"type": "point", "shape": "M0,-1A0.103,1 0 1,1 0,1A0.103,1 0 1,1 0,-1Z", "size": 33856, "filled": false, "stroke": "#000", "strokeWidth": 2, "opacity": 1}},
 {"data": {"name": "arrows"}, "mark": {"type": "line", "color": "#000", "strokeWidth": 3}, "encoding": {"detail": {"field": "a", "type": "nominal"}}},
 {"data": {"name": "head1"}, "mark": {"type": "point", "shape": "triangle-up", "angle": 270, "size": 150, "filled": true, "color": "#000", "opacity": 1}},
 {"data": {"name": "head2"}, "mark": {"type": "point", "shape": "triangle-up", "angle": 206, "size": 150, "filled": true, "color": "#000", "opacity": 1}},
 {"data": {"name": "label"}, "mark": {"type": "text", "fontSize": 13, "color": "#000", "align": "center", "baseline": "middle"}, "encoding": {"text": {"field": "t"}}},
 {"data": {"name": "frame"}, "mark": {"type": "rect", "fill": null, "fillOpacity": 0, "stroke": "#ff0000", "strokeWidth": 1.2}, "encoding": {"x2": {"field": "f2"}, "y2": {"field": "m2"}}}
]
}
